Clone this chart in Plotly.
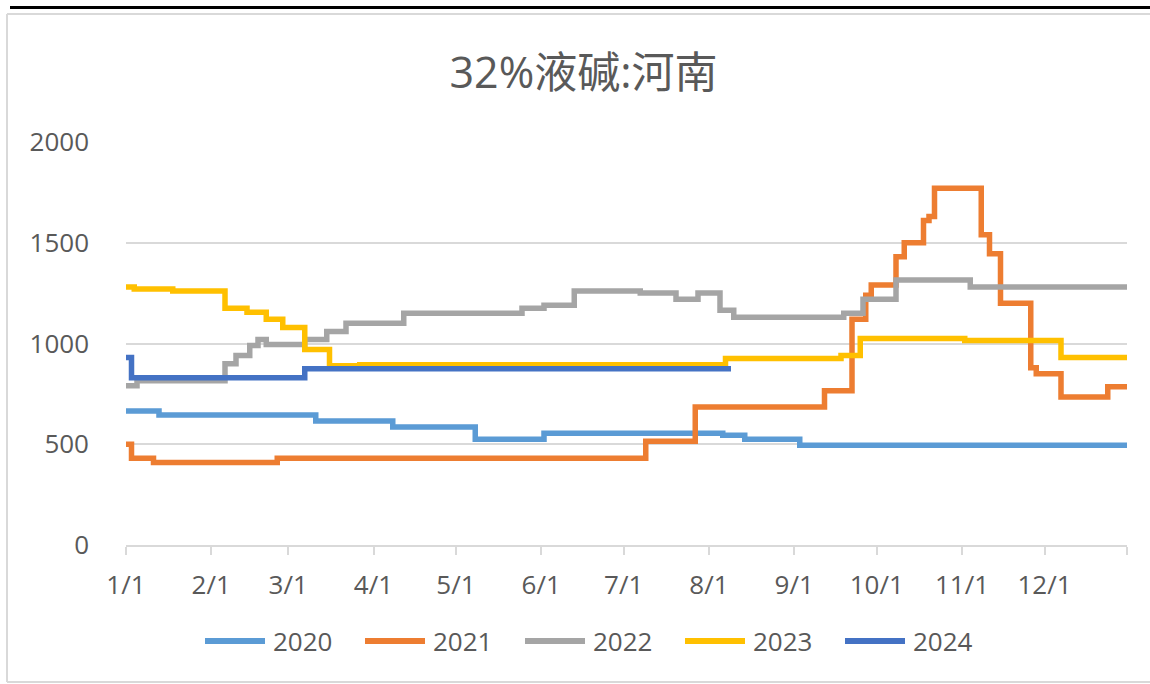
import plotly.graph_objects as go

YEAR_BASE = "2021"

# ---- data (month/day change points, value) ----
d2020 = ["01-01", "01-13", "03-11", "04-08", "05-08", "06-02", "08-06", "08-14", "09-03", "12-31"]
v2020 = [665, 645, 615, 585, 525, 555, 545, 525, 495, 495]

d2021 = ["01-01", "01-03", "01-11", "02-25", "07-09", "07-27", "09-12", "09-22", "09-27", "09-29",
         "10-08", "10-11", "10-18", "10-20", "10-22", "11-08", "11-11", "11-15", "11-26", "11-28",
         "12-07", "12-24", "12-31"]
v2021 = [500, 430, 410, 430, 515, 685, 765, 1120, 1240, 1290,
         1430, 1500, 1610, 1630, 1770, 1540, 1445, 1200, 880, 850,
         735, 785, 785]

d2022 = ["01-01", "01-05", "02-06", "02-10", "02-15", "02-18", "02-21", "03-07", "03-15", "03-22",
         "04-12", "05-25", "06-02", "06-13", "07-07", "07-20", "07-28", "08-05", "08-10", "09-19",
         "09-26", "10-08", "11-04", "12-31"]
v2022 = [790, 815, 900, 940, 990, 1020, 995, 1020, 1060, 1100,
         1150, 1175, 1190, 1260, 1250, 1220, 1250, 1165, 1130, 1150,
         1220, 1315, 1280, 1280]

d2023 = ["01-01", "01-04", "01-18", "02-06", "02-14", "02-21", "02-27", "03-07", "03-16", "03-27",
         "08-07", "09-18", "09-25", "11-02", "12-07", "12-31"]
v2023 = [1280, 1270, 1260, 1175, 1155, 1120, 1080, 970, 890, 895,
         925, 940, 1025, 1015, 930, 930]

d2024 = ["01-01", "01-03", "03-07", "08-09"]
v2024 = [930, 830, 875, 875]

years = ["2020", "2021", "2022", "2023", "2024"]
dates = [d2020, d2021, d2022, d2023, d2024]
values = [v2020, v2021, v2022, v2023, v2024]
colors = ["#5B9BD5", "#ED7D31", "#A5A5A5", "#FFC000", "#4472C4"]

tick_md = ["01-01", "02-01", "03-01", "04-01", "05-01", "06-01", "07-01", "08-01",
           "09-01", "10-01", "11-01", "12-01", "12-31"]
tick_text = ["1/1", "2/1", "3/1", "4/1", "5/1", "6/1", "7/1", "8/1", "9/1", "10/1", "11/1", "12/1", ""]

# ---- layout geometry (page pixels) ----
W, H = 1150, 684
L, R, T, B = 126, 1127, 142, 545

def px(x):
    return (x - L) / (R - L)

def py(y):
    return (B - y) / (B - T)

FONT = "Open Sans, Noto Sans CJK SC, sans-serif"
TXT = "#595959"
FRAME = "#D9D9D9"

fig = go.Figure()
for yr, d, v, c in zip(years, dates, values, colors):
    fig.add_trace(go.Scatter(
        x=[f"{YEAR_BASE}-{m}" for m in d], y=v, name=yr, mode="lines",
        line=dict(color=c, width=5.5, shape="hv"), showlegend=False,
    ))

shapes = [
    # black rule at the very top
    dict(type="line", xref="paper", yref="paper", x0=px(10), x1=px(1150), y0=py(7.5), y1=py(7.5),
         line=dict(color="black", width=3)),
    # light chart frame (top, left, bottom; right edge lies outside the crop)
    dict(type="line", xref="paper", yref="paper", x0=px(7), x1=px(1150), y0=py(14), y1=py(14),
         line=dict(color=FRAME, width=2)),
    dict(type="line", xref="paper", yref="paper", x0=px(7), x1=px(7), y0=py(14), y1=py(682),
         line=dict(color=FRAME, width=2)),
    dict(type="line", xref="paper", yref="paper", x0=px(7), x1=px(1150), y0=py(682), y1=py(682),
         line=dict(color=FRAME, width=2)),
]
annotations = []
# custom legend (long line samples like the reference)
LEG_X0, LEG_STEP, LEG_Y = 205, 160, 641
for i, (yr, c) in enumerate(zip(years, colors)):
    x0 = LEG_X0 + LEG_STEP * i
    shapes.append(dict(type="line", xref="paper", yref="paper", x0=px(x0), x1=px(x0 + 60),
                       y0=py(LEG_Y), y1=py(LEG_Y), line=dict(color=c, width=6)))
    annotations.append(dict(text=yr, xref="paper", yref="paper", x=px(x0 + 66), y=py(LEG_Y),
                            xanchor="left", yanchor="middle", showarrow=False,
                            font=dict(size=26, color=TXT, family=FONT)))

fig.update_layout(
    width=W, height=H,
    margin=dict(l=L, r=W - R, t=T, b=H - B),
    paper_bgcolor="white", plot_bgcolor="white",
    font=dict(family=FONT, color=TXT, size=26),
    title=dict(text="32%液碱:河南", x=583.5 / W, xref="container", xanchor="center",
               y=1 - 73 / H, yref="container", yanchor="middle",
               font=dict(size=43, color=TXT, family=FONT)),
    showlegend=False,
    xaxis=dict(
        type="date", range=[f"{YEAR_BASE}-01-01", f"{YEAR_BASE}-12-31"],
        tickvals=[f"{YEAR_BASE}-{m}" for m in tick_md], ticktext=tick_text,
        showgrid=False, showline=True, linecolor=FRAME, linewidth=1.5,
        ticks="outside", ticklen=8, tickcolor=FRAME, tickwidth=1.5,
        tickfont=dict(size=26, color=TXT), ticklabelstandoff=8, zeroline=False,
        fixedrange=True,
    ),
    yaxis=dict(
        range=[0, 2000], tickvals=[0, 500, 1000, 1500, 2000],
        showgrid=True, gridcolor=FRAME, gridwidth=1.5, zeroline=False,
        showline=False, ticks="", tickfont=dict(size=26, color=TXT),
        ticklabelstandoff=36, fixedrange=True,
    ),
    shapes=shapes,
    annotations=annotations,
)

fig.write_html("out.html", config={"displayModeBar": False},
               post_script="document.body.style.margin='0';")
